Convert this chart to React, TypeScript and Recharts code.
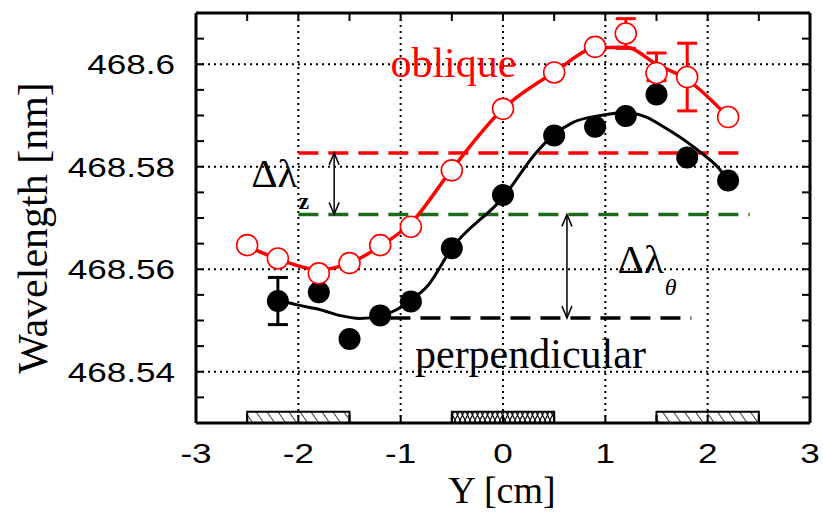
import React from 'react';
import {
  ComposedChart, XAxis, YAxis, Line, Scatter, ErrorBar,
  ReferenceLine, ReferenceArea, ReferenceDot,
} from 'recharts';

// measured positions (cm)
const OBL_X = [-2.5, -2.2, -1.8, -1.5, -1.2, -0.9, -0.5, 0, 0.5, 0.9, 1.2, 1.5, 1.8, 2.2];
const OBL_Y = [468.5647, 468.5621, 468.5592, 468.5612, 468.5647, 468.5683, 468.5793, 468.5913, 468.5984, 468.6034, 468.6060, 468.5983, 468.5975, 468.5897];
const OBL_ERR: (number[] | null)[] = [null, null, null, null, null, null, null, null, null, null, [0.0029, 0.0029], [0.0015, 0.0039], [0.0066, 0.0066], null];
// smoothed red line
const OBL_FIT = [468.5645, 468.5620, 468.5599, 468.5612, 468.5645, 468.5690, 468.5795, 468.5913, 468.5984, 468.6031, 468.6033, 468.6000, 468.5970, 468.5897];

const PERP_X = [-2.2, -1.8, -1.5, -1.2, -0.9, -0.5, 0, 0.5, 0.9, 1.2, 1.5, 1.8, 2.2];
const PERP_Y = [468.5538, 468.5555, 468.5464, 468.5510, 468.5537, 468.5641, 468.5745, 468.5861, 468.5878, 468.5899, 468.5941, 468.5818, 468.5773];
const PERP_ERR: (number | null)[] = [0.0046, null, null, null, null, null, null, null, null, null, null, null, null];

// fitted black curve
const FIT_X = [-2.2, -2.0, -1.8, -1.6, -1.4, -1.2, -1.05, -0.9, -0.74, -0.5, 0, 0.33, 0.49, 0.69, 0.95, 1.2, 1.4, 1.6, 1.8, 1.95, 2.1, 2.2];
const FIT_Y = [468.5540, 468.5530, 468.5522, 468.5510, 468.5504, 468.5509, 468.5520, 468.5540, 468.5567, 468.5641, 468.5740, 468.5829, 468.5861, 468.5887, 468.5900, 468.5906, 468.5897, 468.5874, 468.5848, 468.5825, 468.5799, 468.5773];

// dashed reference levels
const RED_LEVEL = 468.5827;
const GREEN_LEVEL = 468.5707;
const BLACK_LEVEL = 468.5505;
const RED_SPAN = [-2, 2.38];
const GREEN_SPAN = [-2, 2.41];
const BLACK_SPAN = [-1.1, 1.84];
const ARROW_Z_X = -1.65;
const ARROW_T_X = 0.625;

// hatched electrodes along the bottom
const BOX_X1 = [-2.5, -0.5, 1.5];
const BOX_X2 = [-1.5, 0.5, 2.5];
const BOX_FILL = ['url(#hatch)', 'url(#cross)', 'url(#hatch)'];

const X_TICKS = [-3, -2.5, -2, -1.5, -1, -0.5, 0, 0.5, 1, 1.5, 2, 2.5, 3];
const X_GRID = [-2, -1, 0, 1, 2];
const Y_TICKS = [468.53, 468.535, 468.54, 468.545, 468.55, 468.555, 468.56, 468.565, 468.57, 468.575, 468.58, 468.585, 468.59, 468.595, 468.6, 468.605, 468.61];
const Y_GRID = [468.54, 468.56, 468.58, 468.6];
const Y_LABELS = ['468.54', '468.56', '468.58', '468.6'];

const oblique = OBL_X.map((x, i) => ({ x, y: OBL_Y[i], err: OBL_ERR[i] ?? undefined }));
const obliqueFit = OBL_X.map((x, i) => ({ x, y: OBL_FIT[i] }));
const perp = PERP_X.map((x, i) => ({ x, y: PERP_Y[i], err: PERP_ERR[i] ?? undefined }));
const perpFit = FIT_X.map((x, i) => ({ x, y: FIT_Y[i] }));

const TL = 8;
const SANS = 'Liberation Sans, Arial, sans-serif';
const SERIF = 'Liberation Serif, Times New Roman, serif';

const BottomTick = (p: any) => {
  const v = p.payload.value;
  const lab = Math.abs(v - Math.round(v)) < 1e-6;
  return (
    <g>
      <line x1={p.x} y1={p.y} x2={p.x} y2={p.y - TL} stroke="#000" strokeWidth={2} />
      {lab && (
        <text transform={`translate(${p.x},${p.y + 40}) scale(1.3,1)`} textAnchor="middle"
          fontFamily={SANS} fontSize={27} fill="#000">{String(Math.round(v))}</text>
      )}
    </g>
  );
};

const TopTick = (p: any) => (
  <line x1={p.x} y1={p.y} x2={p.x} y2={p.y + TL} stroke="#000" strokeWidth={2} />
);

const LeftTick = (p: any) => {
  const v = p.payload.value;
  const idx = Y_GRID.findIndex((g) => Math.abs(g - v) < 1e-6);
  return (
    <g>
      <line x1={p.x} y1={p.y} x2={p.x + TL} y2={p.y} stroke="#000" strokeWidth={2} />
      {idx >= 0 && (
        <text transform={`translate(${p.x - 21},${p.y + 10}) scale(1.3,1)`} textAnchor="end"
          fontFamily={SANS} fontSize={27} fill="#000">{Y_LABELS[idx]}</text>
      )}
    </g>
  );
};

const RightTick = (p: any) => (
  <line x1={p.x} y1={p.y} x2={p.x - TL} y2={p.y} stroke="#000" strokeWidth={2} />
);

const OpenCircle = (p: any) => (
  <circle cx={p.cx} cy={p.cy} r={10.5} fill="#fff" stroke="#ff0000" strokeWidth={1.6} />
);
const FilledCircle = (p: any) => (
  <circle cx={p.cx} cy={p.cy} r={11} fill="#000" />
);

const Arrow = (p: any) => {
  const top = Math.min(p.y1, p.y2);
  const bot = Math.max(p.y1, p.y2);
  const x = p.x1;
  return (
    <g stroke="#000" strokeWidth={1.5} fill="none">
      <line x1={x} y1={top} x2={x} y2={bot} />
      <polyline points={`${x - 5},${top + 12} ${x},${top} ${x + 5},${top + 12}`} />
      <polyline points={`${x - 5},${bot - 12} ${x},${bot} ${x + 5},${bot - 12}`} />
    </g>
  );
};

const Label = (txt: string, color: string) => (p: any) => (
  <text x={p.cx} y={p.cy} fontFamily={SERIF} fontSize={42} fill={color}>{txt}</text>
);

const DeltaLabel = (sub: string, italic: boolean) => (p: any) => (
  <text x={p.cx} y={p.cy} fontFamily={SERIF} fill="#000">
    <tspan fontSize={41}>Δλ</tspan>
    <tspan fontSize={24} dy={22} dx={1} fontStyle={italic ? 'italic' : 'normal'} fontWeight={italic ? 'normal' : 'bold'}>{sub}</tspan>
  </text>
);

export default function App() {
  return (
    <div style={{ position: 'absolute', left: 0, top: 0, width: 823, height: 513, background: '#fff' }}>
      <ComposedChart width={823} height={513} data={oblique}
        margin={{ top: 3, right: 3, bottom: 60, left: 136 }}>
        <defs>
          <pattern id="hatch" width="9" height="9" patternUnits="userSpaceOnUse" patternTransform="rotate(-35)">
            <line x1="0" y1="0" x2="0" y2="9" stroke="#000" strokeWidth="1.5" />
          </pattern>
          <pattern id="cross" width="10" height="10" patternUnits="userSpaceOnUse">
            <path d="M0,10 L5,0 L10,10 M0,0 L5,10 L10,0" stroke="#000" strokeWidth="1.1" fill="none" />
          </pattern>
        </defs>
        <XAxis xAxisId="b" type="number" dataKey="x" domain={[-3, 3]} ticks={X_TICKS} allowDataOverflow
          height={30} tickSize={0} tickMargin={0} tick={<BottomTick />} tickLine={false}
          axisLine={{ stroke: '#000', strokeWidth: 3 }} interval={0} />
        <XAxis xAxisId="t" orientation="top" type="number" dataKey="x" domain={[-3, 3]} ticks={X_TICKS} allowDataOverflow
          height={10} tickSize={0} tickMargin={0} tick={<TopTick />} tickLine={false}
          axisLine={{ stroke: '#000', strokeWidth: 3 }} interval={0} />
        <YAxis yAxisId="l" type="number" dataKey="y" domain={[468.53, 468.61]} ticks={Y_TICKS} allowDataOverflow
          width={60} tickSize={0} tickMargin={0} tick={<LeftTick />} tickLine={false}
          axisLine={{ stroke: '#000', strokeWidth: 3 }} interval={0} />
        <YAxis yAxisId="r" orientation="right" type="number" dataKey="y" domain={[468.53, 468.61]} ticks={Y_TICKS} allowDataOverflow
          width={10} tickSize={0} tickMargin={0} tick={<RightTick />} tickLine={false}
          axisLine={{ stroke: '#000', strokeWidth: 3 }} interval={0} />

        {X_GRID.map((v) => (
          <ReferenceLine key={`gx${v}`} xAxisId="b" yAxisId="l" x={v} stroke="#000" strokeWidth={2} strokeDasharray="2 4" />
        ))}
        {Y_GRID.map((v) => (
          <ReferenceLine key={`gy${v}`} xAxisId="b" yAxisId="l" y={v} stroke="#000" strokeWidth={2} strokeDasharray="2 4" />
        ))}

        {BOX_X1.map((x1, i) => (
          <ReferenceArea key={`box${i}`} xAxisId="b" yAxisId="l" x1={x1} x2={BOX_X2[i]} y1={468.53} y2={468.5322}
            fill={BOX_FILL[i]} fillOpacity={1} stroke="#000" strokeWidth={2} />
        ))}

        <ReferenceLine xAxisId="b" yAxisId="l" segment={[{ x: RED_SPAN[0], y: RED_LEVEL }, { x: RED_SPAN[1], y: RED_LEVEL }]}
          stroke="#ff0000" strokeWidth={3.5} strokeDasharray="20 10" />
        <ReferenceLine xAxisId="b" yAxisId="l" segment={[{ x: GREEN_SPAN[0], y: GREEN_LEVEL }, { x: GREEN_SPAN[1], y: GREEN_LEVEL }]}
          stroke="#1b6b1b" strokeWidth={3.5} strokeDasharray="20 10" />
        <ReferenceLine xAxisId="b" yAxisId="l" segment={[{ x: BLACK_SPAN[0], y: BLACK_LEVEL }, { x: BLACK_SPAN[1], y: BLACK_LEVEL }]}
          stroke="#000" strokeWidth={3.5} strokeDasharray="20 10" />
        <ReferenceLine xAxisId="b" yAxisId="l" segment={[{ x: ARROW_Z_X, y: RED_LEVEL }, { x: ARROW_Z_X, y: GREEN_LEVEL }]}
          shape={Arrow} />
        <ReferenceLine xAxisId="b" yAxisId="l" segment={[{ x: ARROW_T_X, y: GREEN_LEVEL }, { x: ARROW_T_X, y: BLACK_LEVEL }]}
          shape={Arrow} />

        <Line xAxisId="b" yAxisId="l" data={obliqueFit} dataKey="y" type="monotone" stroke="#ff0000" strokeWidth={3.5}
          dot={false} activeDot={false} isAnimationActive={false} />
        <Line xAxisId="b" yAxisId="l" data={perpFit} dataKey="y" type="monotone" stroke="#000" strokeWidth={3}
          dot={false} activeDot={false} isAnimationActive={false} />

        <Scatter xAxisId="b" yAxisId="l" data={perp} dataKey="y" shape={FilledCircle} isAnimationActive={false}>
          <ErrorBar dataKey="err" direction="y" width={10} stroke="#000" strokeWidth={3} />
        </Scatter>
        <Scatter xAxisId="b" yAxisId="l" data={oblique} dataKey="y" shape={OpenCircle} isAnimationActive={false}>
          <ErrorBar dataKey="err" direction="y" width={10} stroke="#ff0000" strokeWidth={3} />
        </Scatter>

        <ReferenceDot xAxisId="b" yAxisId="l" x={-1.1} y={468.5975} r={1} shape={Label('oblique', '#ff0000')} />
        <ReferenceDot xAxisId="b" yAxisId="l" x={-0.86} y={468.5408} r={1} shape={Label('perpendicular', '#000')} />
        <ReferenceDot xAxisId="b" yAxisId="l" x={-2.46} y={468.5761} r={1} shape={DeltaLabel('z', false)} />
        <ReferenceDot xAxisId="b" yAxisId="l" x={1.12} y={468.5592} r={1} shape={DeltaLabel('θ', true)} />

        <text transform="translate(47,228) rotate(-90)" textAnchor="middle" fontFamily={SERIF} fontSize={42} fill="#000">
          Wavelength [nm]
        </text>
        <text x={502} y={503} textAnchor="middle" fontFamily={SERIF} fontSize={38} fill="#000">Y [cm]</text>
      </ComposedChart>
    </div>
  );
}
